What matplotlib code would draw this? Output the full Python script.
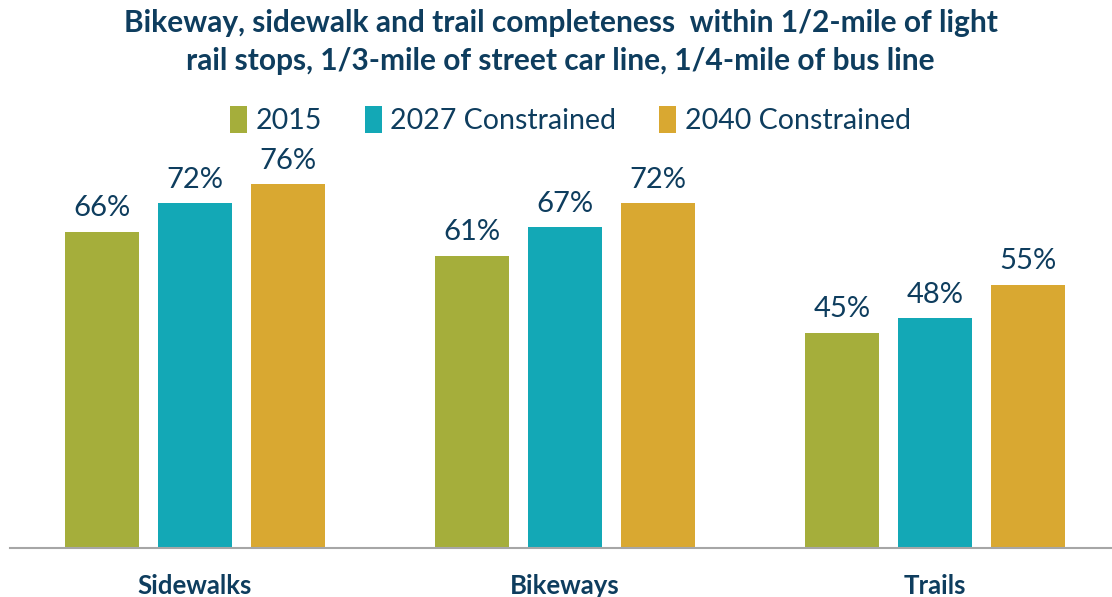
import numpy as np
import matplotlib.pyplot as plt

categories = ['Sidewalks', 'Bikeways', 'Trails']
series = ['2015', '2027 Constrained', '2040 Constrained']
values_2015 = [66, 61, 45]
values_2027 = [72, 67, 48]
values_2040 = [76, 72, 55]

colors = ['#A5AE3B', '#13A8B6', '#D9A831']
navy = '#0E3D5E'
font = ['Lato', 'DejaVu Sans']

fig = plt.figure(figsize=(11.12, 5.97), dpi=100)
ax = fig.add_axes([10 / 1112, 49 / 597, 1102 / 1112, 408 / 597])

x = np.arange(len(categories))
width = 0.2
step = 0.251
data = [values_2015, values_2027, values_2040]

for i, (name, vals, col) in enumerate(zip(series, data, colors)):
    bars = ax.bar(x + (i - 1) * step, vals, width, color=col, label=name)
    for b, v in zip(bars, vals):
        ax.text(b.get_x() + b.get_width() / 2, v + 2.2, f'{v}%',
                ha='center', va='bottom', fontsize=21, color=navy,
                family=font)

ax.set_xlim(-0.5, 2.478)
ax.set_ylim(0, 85.2)
ax.set_xticks(x)
ax.set_xticklabels(categories, fontsize=18.5, fontweight='bold', color=navy,
                   family=font)
ax.tick_params(axis='x', length=0, pad=19)
ax.set_yticks([])
for side in ['top', 'right', 'left']:
    ax.spines[side].set_visible(False)
ax.spines['bottom'].set_color('#A6A6A6')
ax.spines['bottom'].set_linewidth(1.5)

fig.text(0.504, 1 - 42 / 597,
         'Bikeway, sidewalk and trail completeness  within 1/2-mile of light\n'
         'rail stops, 1/3-mile of street car line, 1/4-mile of bus line',
         ha='center', va='center', fontsize=21.5, fontweight='bold', color=navy,
         family=font, linespacing=1.45)

leg = fig.legend(loc='center', bbox_to_anchor=(0.513, 1 - 120 / 597), ncol=3,
                 frameon=False, handlelength=0.6, handleheight=1.1,
                 handletextpad=0.3, columnspacing=1.5,
                 prop={'family': font, 'size': 20.5})
for t in leg.get_texts():
    t.set_color(navy)

fig.savefig('out.png', dpi=100)
